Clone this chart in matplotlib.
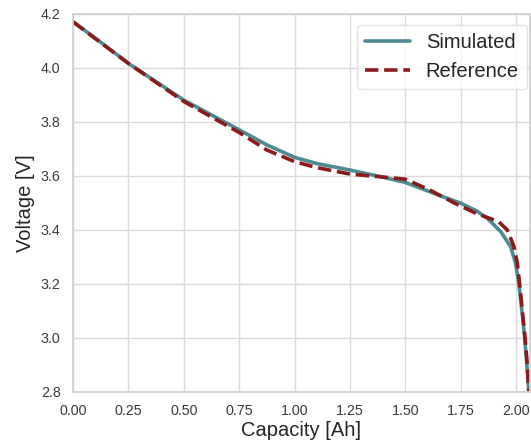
import matplotlib
matplotlib.use("Agg")
import matplotlib.pyplot as plt
import seaborn as sns

sim_capacity = [0.0, 0.1, 0.25, 0.5, 0.75, 0.875, 1.0, 1.1, 1.25, 1.39, 1.5, 1.58, 1.65, 1.75,
                1.82, 1.87, 1.93, 1.975, 1.997, 2.012, 2.02, 2.03, 2.038, 2.048, 2.057]
sim_voltage = [4.170, 4.110, 4.016, 3.880, 3.770, 3.714, 3.668, 3.645, 3.621, 3.596, 3.575, 3.550,
               3.528, 3.498, 3.470, 3.442, 3.393, 3.337, 3.276, 3.200, 3.140, 3.070, 3.000, 2.900, 2.800]

ref_capacity = [0.0, 0.1, 0.25, 0.5, 0.75, 0.875, 1.0, 1.1, 1.25, 1.4, 1.5, 1.61, 1.72,
                1.82, 1.92, 1.96, 1.99, 2.005, 2.018, 2.03, 2.04, 2.05, 2.057]
ref_voltage = [4.170, 4.108, 4.016, 3.875, 3.760, 3.695, 3.652, 3.630, 3.606, 3.595, 3.587, 3.547,
               3.499, 3.460, 3.430, 3.399, 3.337, 3.276, 3.180, 3.080, 3.000, 2.900, 2.800]

sns.set_theme(style="whitegrid")
plt.rcParams['font.family'] = ['Liberation Sans', 'DejaVu Sans']

fig = plt.figure(figsize=(5.31, 4.45), dpi=100)
ax = fig.add_axes([0.1375, 0.1198, 0.8605, 0.8494])

ax.plot(sim_capacity, sim_voltage, color="#4d8b91", lw=2.6, label="Simulated")
ax.plot(ref_capacity, ref_voltage, color="#8b1a1a", lw=2.6, ls="--", label="Reference")

ax.set_xlim(0, 2.062)
ax.set_ylim(2.8, 4.2)
ax.set_xticks([0.0, 0.25, 0.5, 0.75, 1.0, 1.25, 1.5, 1.75, 2.0])
ax.set_xticklabels(["0.00", "0.25", "0.50", "0.75", "1.00", "1.25", "1.50", "1.75", "2.00"])
ax.set_yticks([2.8, 3.0, 3.2, 3.4, 3.6, 3.8, 4.0, 4.2])
ax.set_yticklabels(["2.8", "3.0", "3.2", "3.4", "3.6", "3.8", "4.0", "4.2"])
ax.tick_params(axis="both", labelsize=10.3, colors="#3a3a3a", pad=3)
ax.set_xlabel("Capacity [Ah]", fontsize=14.5, color="#262626", labelpad=2)
ax.set_ylabel("Voltage [V]", fontsize=14.5, color="#262626", labelpad=4)
ax.grid(True, color="#dadada", lw=1.0)
for s in ax.spines.values():
    s.set_color("#d0d0d0")

leg = ax.legend(loc="upper right", fontsize=14.5, frameon=True, handlelength=2.2,
                borderaxespad=0.0, bbox_to_anchor=(0.9934, 0.970))
leg.get_frame().set_edgecolor("#dddddd")

fig.savefig("out.png", dpi=100)
